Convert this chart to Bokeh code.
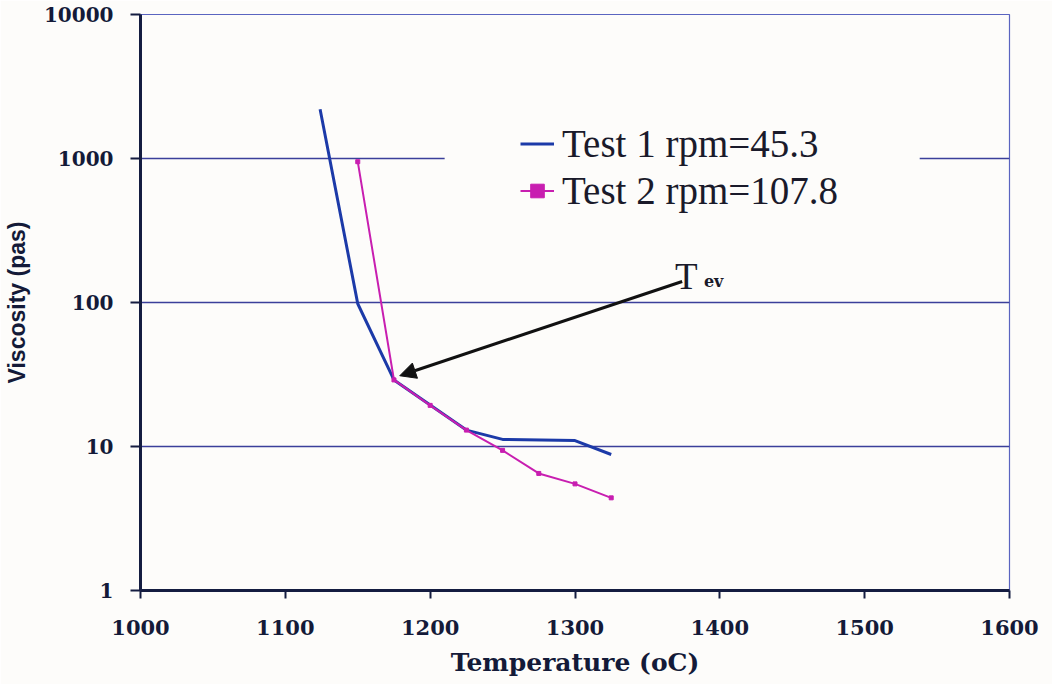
from bokeh.plotting import figure
from bokeh.models import (Legend, LegendItem, Arrow, NormalHead, Label, BoxAnnotation,
                          FixedTicker, BasicTickFormatter, Range1d)
from bokeh.embed import file_html
from bokeh.resources import INLINE

# Viscosity measurements (Pa.s) against temperature (deg C)
test1_temp = [1124, 1150, 1175, 1225, 1250, 1300, 1325]
test1_visc = [2200, 98, 29, 13, 11.2, 11.0, 8.8]

test2_temp = [1150, 1175, 1200, 1225, 1250, 1275, 1300, 1325]
test2_visc = [950, 29, 19.3, 13, 9.4, 6.5, 5.5, 4.4]

series_labels = ["Test 1 rpm=45.3", "Test 2 rpm=107.8"]

x_ticks = [1000, 1100, 1200, 1300, 1400, 1500, 1600]
y_ticks = [1, 10, 100, 1000, 10000]

# Tev annotation: arrow from the label towards the break in the curves
arrow_start = (1374, 140)
arrow_end = (1179, 31)
tev_T_pos = (1369, 152)
tev_sub_pos = (1389, 139)

# clear band behind the legend where the 1000 grid line is interrupted
legend_band_x = (1210, 1538)
legend_band_y = (700, 1420)

BLUE = "#1c3aa8"
MAGENTA = "#c81eb0"
GRID = "#3b3f9a"
AXIS = "#141c40"
BG = "#fdfcfa"
TEXT = "#141a38"
SERIF = "Liberation Serif"
BOLD_SERIF = "DejaVu Serif"
SANS = "Liberation Sans"

p = figure(width=1052, height=684, output_backend="svg", toolbar_location=None,
           y_axis_type="log",
           x_range=Range1d(1000, 1600), y_range=Range1d(1, 10000),
           min_border_left=139, min_border_right=43, min_border_top=14,
           min_border_bottom=94)

p.background_fill_color = BG
p.border_fill_color = BG
p.outline_line_color = "#5a64c0"
p.outline_line_width = 1.2

# grid
p.xgrid.grid_line_color = None
p.ygrid.grid_line_color = GRID
p.ygrid.grid_line_width = 1.5
p.ygrid.ticker = FixedTicker(ticks=y_ticks)

# axes
p.xaxis.ticker = FixedTicker(ticks=x_ticks)
p.yaxis.ticker = FixedTicker(ticks=y_ticks)
p.yaxis.formatter = BasicTickFormatter(use_scientific=False)

p.axis.axis_line_color = AXIS
p.axis.axis_line_width = 3
p.axis.major_tick_line_color = AXIS
p.axis.major_tick_line_width = 2
p.axis.major_tick_in = 0
p.axis.minor_tick_line_color = None
p.axis.major_label_text_color = TEXT
p.axis.axis_label_text_color = TEXT
p.axis.major_label_text_font = BOLD_SERIF
p.axis.major_label_text_font_style = "bold"

p.xaxis.major_label_text_font_size = "21px"
p.xaxis.major_tick_out = 8
p.xaxis.major_label_standoff = 21
p.xaxis.axis_label = "Temperature (oC)"
p.xaxis.axis_label_text_font = BOLD_SERIF
p.xaxis.axis_label_text_font_style = "bold"
p.xaxis.axis_label_text_font_size = "25px"
p.xaxis.axis_label_standoff = 10

p.yaxis.major_label_text_font_size = "20px"
p.yaxis.major_tick_out = 10
p.yaxis.major_label_standoff = 17
p.yaxis.axis_label = "Viscosity (pas)"
p.yaxis.axis_label_text_font = SANS
p.yaxis.axis_label_text_font_style = "bold"
p.yaxis.axis_label_text_font_size = "23px"
p.yaxis.axis_label_standoff = 11

# data
r1 = p.line(test1_temp, test1_visc, line_color=BLUE, line_width=3)
r2 = p.line(test2_temp, test2_visc, line_color=MAGENTA, line_width=2)
r2m = p.scatter(test2_temp, test2_visc, marker="square", size=4,
                fill_color=MAGENTA, line_color=MAGENTA)

band = BoxAnnotation(left=legend_band_x[0], right=legend_band_x[1],
                     bottom=legend_band_y[0], top=legend_band_y[1],
                     fill_color=BG, fill_alpha=1.0, line_color=None)
p.add_layout(band)

legend = Legend(items=[LegendItem(label=series_labels[0], renderers=[r1]),
                       LegendItem(label=series_labels[1], renderers=[r2, r2m])],
                location=(380, 376), margin=0, padding=0, spacing=0,
                glyph_width=34, glyph_height=47, label_height=47,
                label_standoff=8,
                background_fill_alpha=0, border_line_color=None,
                label_text_font=SERIF, label_text_font_size="39px",
                label_text_color="#1a1a2a")
p.add_layout(legend)

arrow = Arrow(end=NormalHead(size=16, fill_color="#111111", line_color="#111111"),
              x_start=arrow_start[0], y_start=arrow_start[1],
              x_end=arrow_end[0], y_end=arrow_end[1],
              line_color="#111111", line_width=3)
p.add_layout(arrow)

p.add_layout(Label(x=tev_T_pos[0], y=tev_T_pos[1], text="T",
                   text_font=SERIF, text_font_size="37px",
                   text_color="#1a1a2a", text_baseline="alphabetic"))
p.add_layout(Label(x=tev_sub_pos[0], y=tev_sub_pos[1], text="ev",
                   text_font=BOLD_SERIF, text_font_style="bold",
                   text_font_size="16px", text_color="#1a1a2a",
                   text_baseline="alphabetic"))

open("out.html", "w").write(file_html(p, INLINE))
